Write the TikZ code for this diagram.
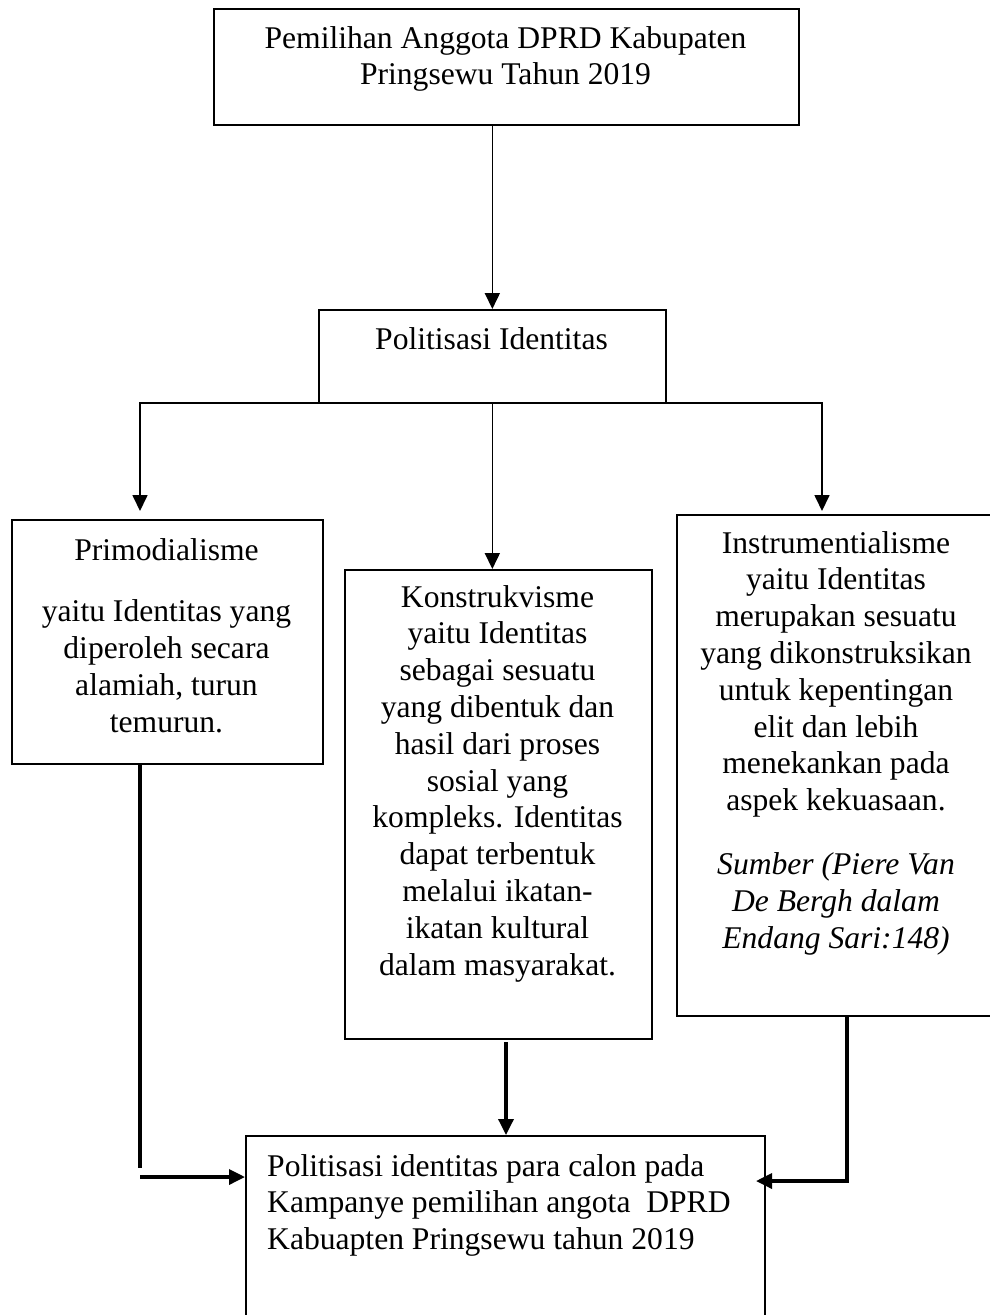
\documentclass[tikz,border=0pt]{standalone}
\usepackage{fontspec}
\setmainfont{Liberation Serif}
\usetikzlibrary{arrows.meta}
\newcommand\fsz{\fontsize{31.6}{36.8}\selectfont}
\begin{document}
\begin{tikzpicture}[x=1pt,y=-1pt,
  box/.style={draw=black, line width=1.7pt, inner sep=0pt, anchor=north west},
  txt/.style={inner sep=0pt, align=center, font=\fsz, anchor=north},
  thin/.style={line width=1.7pt},
  thk/.style={line width=3.4pt},
  arr/.style={-{Triangle[length=16pt,width=15pt]}}]
\clip (0,0) rectangle (990,1315);
\fill[white] (0,0) rectangle (990,1315);
% boxes
\node[box, minimum width=585pt, minimum height=116pt] (b1) at (213,8) {};
\node[box, minimum width=347pt, minimum height=93pt] (b2) at (318,309) {};
\node[box, minimum width=311pt, minimum height=244pt] (b3) at (11,519) {};
\node[box, minimum width=307pt, minimum height=469pt] (b4) at (344,569) {};
\node[box, minimum width=330pt, minimum height=501pt] (b5) at (676,514) {};
\node[box, minimum width=519pt, minimum height=200pt] (b6) at (245,1135) {};
% texts
\node[txt] (t1) at (505.5,22.2) {\strut Pemilihan Anggota DPRD Kabupaten\\Pringsewu Tahun 2019};
\node[txt] (t2) at (491.5,323.7) {\strut Politisasi Identitas};
\node[txt] (t3) at (166.5,534.2) {\strut Primodialisme\\[25pt]yaitu Identitas yang\\diperoleh secara\\alamiah, turun\\temurun.};
\node[txt] (t4) at (497.5,581.2) {\strut Konstrukvisme\\yaitu Identitas\\sebagai sesuatu\\yang dibentuk dan\\hasil dari proses\\sosial yang\\kompleks. Identitas\\dapat terbentuk\\melalui ikatan-\\ikatan kultural\\dalam masyarakat.};
\node[txt] (t5) at (836,527.2) {\strut Instrumentialisme\\yaitu Identitas\\merupakan sesuatu\\yang dikonstruksikan\\untuk kepentingan\\elit dan lebih\\menekankan pada\\aspek kekuasaan.\\[27pt]\textit{Sumber (Piere Van}\\\textit{De Bergh dalam}\\\textit{Endang Sari:148)}};
\node[txt, align=left, anchor=north west] (t6) at (267,1150.2) {\strut Politisasi identitas para calon pada\\Kampanye pemilihan angota\ \ DPRD\\Kabuapten Pringsewu tahun 2019};
% upper connectors
\draw[thin, arr] (b1.south -| b2.north) -- (b2.north);
\coordinate (l1) at (358,403);
\coordinate (l2) at (140,511);
\coordinate (r1) at (624,403);
\coordinate (r2) at (822,511);
\draw[thin, arr] (l1) -| (l2);
\draw[thin, arr] (r1) -| (r2);
\draw[thin, arr] (b2.south) -- (b2.south |- b4.north);
% lower connectors
\coordinate (la) at (140,763);
\coordinate (lb) at (140,1168);
\coordinate (lc) at (140,1177);
\draw[thk] (la) -- (lb);
\draw[thk, arr] (lc) -- (lc -| b6.west);
\coordinate (ma) at (506,1042);
\draw[thk, arr] (ma) -- (ma |- b6.north);
\coordinate (ra) at (847,1015);
\coordinate (rb) at (756,1181);
\draw[thk, arr] (ra) |- (rb);
\end{tikzpicture}
\end{document}
